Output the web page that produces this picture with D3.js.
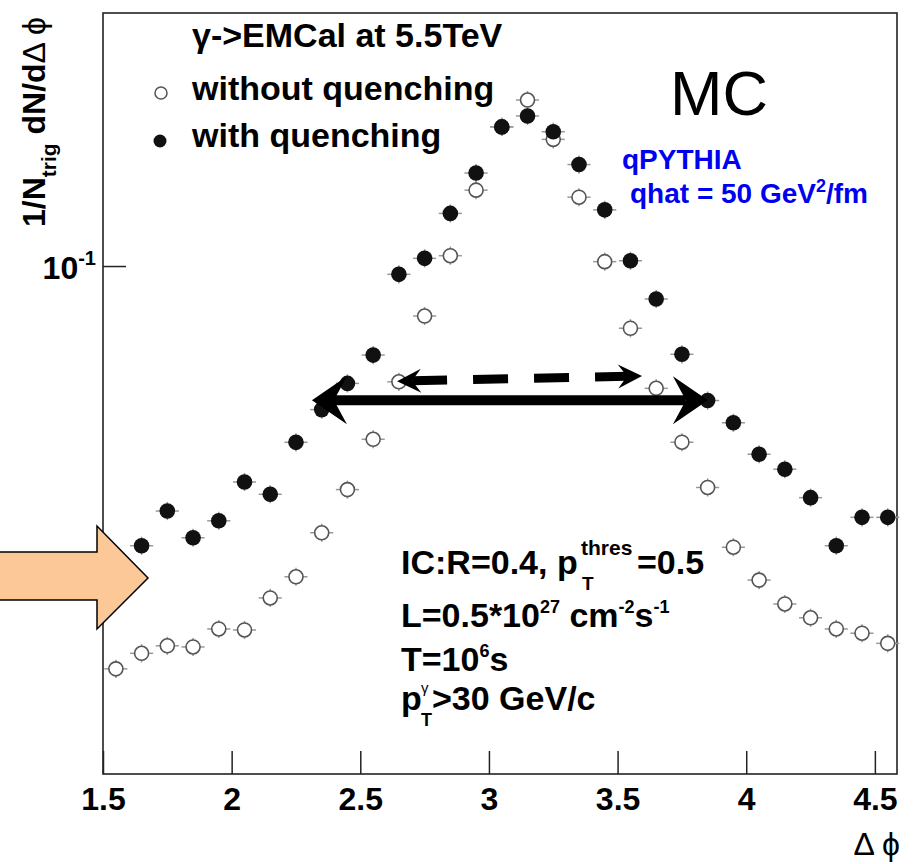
<!DOCTYPE html>
<html>
<head>
    <title>Delta phi correlation</title>
    <script src="https://cdn.jsdelivr.net/npm/d3@7"></script>
</head>
<style>
body { margin: 0; background: white; }
text { font-family: "Liberation Sans", Arial, Helvetica, sans-serif; }
</style>
<body>
<script>

// bin centres in delta phi
var dphi = [1.55, 1.65, 1.75, 1.85, 1.95, 2.05, 2.15, 2.25, 2.35, 2.45,
            2.55, 2.65, 2.75, 2.85, 2.95, 3.05, 3.15, 3.25, 3.35, 3.45,
            3.55, 3.65, 3.75, 3.85, 3.95, 4.05, 4.15, 4.25, 4.35, 4.45, 4.55];

// open circles
var withoutQuench = [0.00497, 0.00558, 0.00590, 0.00585, 0.00669, 0.00664, 0.00843, 0.00987, 0.0137, 0.0189,
                     0.0275, 0.0422, 0.0689, 0.108, 0.176, 0.282, 0.3445, 0.257, 0.167, 0.1033,
                     0.0629, 0.0402, 0.0269, 0.0192, 0.0123, 0.00963, 0.00806, 0.00727, 0.00669, 0.00648, 0.00601];

// filled circles
var withQuench = [0.00978, 0.01244, 0.01611, 0.0132, 0.01498, 0.0200, 0.01825, 0.02688, 0.0343, 0.0417,
                  0.0515, 0.094, 0.1059, 0.148, 0.200, 0.282, 0.306, 0.272, 0.213, 0.152,
                  0.104, 0.0782, 0.0518, 0.0367, 0.0311, 0.0246, 0.0220, 0.0178, 0.01244, 0.01537, 0.01537];

var xTicks = [1.5, 2, 2.5, 3, 3.5, 4, 4.5];
var yTicks = [0.01, 0.1];
var yTickExp = ["-2", "-1"];

var binHalf = 0.045;
var relErr = 0.07;

// width arrows (delta phi ends, y level)
var solidArrowX = [2.312, 3.851];
var solidArrowY = [0.0368, 0.0368];
var dashArrowX = [2.643, 3.595];
var dashArrowY = [0.0424, 0.0441];

var w = 913, h = 864;
var padL = 103, padR = 897, padT = 13, padB = 774;

var svg = d3.select("body").append("svg")
    .attr("width", w)
    .attr("height", h);

svg.append("rect").attr("width", w).attr("height", h).attr("fill", "white");

var x = d3.scaleLinear().domain([1.5, 4.586]).range([padL, padR]);
var y = d3.scaleLog().domain([0.00227, 0.659]).range([padB, padT]);

// ticks (ROOT style, pointing inwards)
var xMinor = d3.range(15, 46).map(function(d) { return d / 10; })
    .filter(function(d) { return xTicks.indexOf(d) < 0; });
var yMinor = y.ticks().filter(function(d) {
    return Math.abs(Math.log10(d) - Math.round(Math.log10(d))) > 1e-6;
});

var gx = svg.append("g").attr("transform", "translate(0," + padB + ")");
gx.call(d3.axisBottom(x).tickValues(xMinor).tickSizeInner(-12).tickSizeOuter(0).tickFormat(""));
gx.call(d3.axisBottom(x).tickValues(xTicks).tickSizeInner(-23).tickSizeOuter(0).tickPadding(13)
    .tickFormat(d3.format("")));
gx.selectAll("text")
    .attr("fill", "black")
    .style("font-size", "32px")
    .style("font-weight", "bold")
    .style("font-family", "'Liberation Sans', Arial, sans-serif");

var gy = svg.append("g").attr("transform", "translate(" + padL + ",0)");
gy.call(d3.axisLeft(y).tickValues(yMinor).tickSizeInner(-12).tickSizeOuter(0).tickFormat(""));
gy.call(d3.axisLeft(y).tickValues(yTicks).tickSizeInner(-23).tickSizeOuter(0).tickFormat(""));
svg.selectAll(".domain").remove();
svg.selectAll(".tick line").attr("stroke", "#222").attr("stroke-width", 1.5);

yTicks.forEach(function(v, i) {
    var t = svg.append("text")
        .attr("x", 96)
        .attr("y", y(v) + 13)
        .attr("text-anchor", "end")
        .style("font-size", "32px")
        .style("font-weight", "bold");
    t.append("tspan").text("10");
    t.append("tspan").attr("dy", -14).style("font-size", "20px").text(yTickExp[i]);
});

// frame
svg.append("rect")
    .attr("x", padL).attr("y", padT)
    .attr("width", padR - padL).attr("height", padB - padT)
    .attr("fill", "none")
    .attr("stroke", "#222")
    .attr("stroke-width", 1.6);

// error bars
function errorBars(vals) {
    var g = svg.append("g").attr("stroke", "#999").attr("stroke-width", 1.5);
    g.selectAll("line.ex")
        .data(vals)
        .enter()
        .append("line")
        .attr("class", "ex")
        .attr("x1", function(d, i) { return x(dphi[i] - binHalf); })
        .attr("x2", function(d, i) { return x(dphi[i] + binHalf); })
        .attr("y1", function(d) { return y(d); })
        .attr("y2", function(d) { return y(d); });
    g.selectAll("line.ey")
        .data(vals)
        .enter()
        .append("line")
        .attr("class", "ey")
        .attr("x1", function(d, i) { return x(dphi[i]); })
        .attr("x2", function(d, i) { return x(dphi[i]); })
        .attr("y1", function(d) { return y(d * (1 + relErr)); })
        .attr("y2", function(d) { return y(d / (1 + relErr)); });
}
errorBars(withoutQuench);
errorBars(withQuench);

svg.append("g").selectAll("circle")
    .data(withoutQuench)
    .enter()
    .append("circle")
    .attr("cx", function(d, i) { return x(dphi[i]); })
    .attr("cy", function(d) { return y(d); })
    .attr("r", 7)
    .attr("fill", "white")
    .attr("stroke", "#555")
    .attr("stroke-width", 1.6);

svg.append("g").selectAll("circle")
    .data(withQuench)
    .enter()
    .append("circle")
    .attr("cx", function(d, i) { return x(dphi[i]); })
    .attr("cy", function(d) { return y(d); })
    .attr("r", 7.8)
    .attr("fill", "#111");

// double arrows
function headPath(len, half, notch) {
    return "M0,0L" + len + "," + (-half) + "L" + notch + ",0L" + len + "," + half + "Z";
}
function doubleArrow(xs, ys, width, dash, len, half, notch) {
    var x1 = x(xs[0]), y1 = y(ys[0]), x2 = x(xs[1]), y2 = y(ys[1]);
    var ang = Math.atan2(y2 - y1, x2 - x1);
    var c = Math.cos(ang), s = Math.sin(ang);
    svg.append("line")
        .attr("x1", x1 + notch * c).attr("y1", y1 + notch * s)
        .attr("x2", x2 - notch * c).attr("y2", y2 - notch * s)
        .attr("stroke", "black")
        .attr("stroke-width", width)
        .attr("stroke-dasharray", dash);
    svg.append("path")
        .attr("d", headPath(len, half, notch))
        .attr("transform", "translate(" + x1 + "," + y1 + ") rotate(" + (ang * 180 / Math.PI) + ")")
        .attr("fill", "black");
    svg.append("path")
        .attr("d", headPath(len, half, notch))
        .attr("transform", "translate(" + x2 + "," + y2 + ") rotate(" + (ang * 180 / Math.PI + 180) + ")")
        .attr("fill", "black");
}
doubleArrow(solidArrowX, solidArrowY, 10, null, 35, 24, 22);
doubleArrow(dashArrowX, dashArrowY, 9, "35,26", 24, 12, 15);

// legend
svg.append("circle").attr("cx", 161).attr("cy", 93).attr("r", 6)
    .attr("fill", "white").attr("stroke", "#555").attr("stroke-width", 1.5);
svg.append("circle").attr("cx", 160).attr("cy", 141).attr("r", 6.5).attr("fill", "#111");

var legendLines = ["\u03b3->EMCal at 5.5TeV", "without quenching", "with quenching"];
var legendBase = [47, 100, 147];
legendLines.forEach(function(t, i) {
    svg.append("text")
        .attr("x", 192)
        .attr("y", legendBase[i])
        .style("font-size", "34px")
        .style("font-weight", "bold")
        .text(t);
});

svg.append("text")
    .attr("x", 670).attr("y", 115)
    .style("font-size", "63px")
    .text("MC");

svg.append("text")
    .attr("x", 622).attr("y", 169)
    .attr("fill", "#0000f0")
    .style("font-size", "28px").style("font-weight", "bold")
    .text("qPYTHIA");
var qh = svg.append("text")
    .attr("x", 630).attr("y", 203)
    .attr("fill", "#0000f0")
    .style("font-size", "28px").style("font-weight", "bold");
qh.append("tspan").text("qhat = 50 GeV");
qh.append("tspan").attr("dy", -11).style("font-size", "18px").text("2");
qh.append("tspan").attr("dy", 11).text("/fm");

// cuts text block
var info = svg.append("g").style("font-weight", "bold");
var l1 = info.append("text").attr("x", 401).attr("y", 574).style("font-size", "34px");
l1.append("tspan").text("IC:R=0.4, p");
l1.append("tspan").attr("x", 581).attr("y", 555).style("font-size", "21px").text("thres");
l1.append("tspan").attr("x", 582).attr("y", 590).style("font-size", "19px").text("T");
l1.append("tspan").attr("x", 637).attr("y", 574).text("=0.5");

var l2 = info.append("text").attr("x", 401).attr("y", 627).style("font-size", "34px");
l2.append("tspan").text("L=0.5*10");
l2.append("tspan").attr("dy", -14).style("font-size", "18px").text("27");
l2.append("tspan").attr("dy", 14).text(" cm");
l2.append("tspan").attr("dy", -14).style("font-size", "18px").text("-2");
l2.append("tspan").attr("dy", 14).text("s");
l2.append("tspan").attr("dy", -14).style("font-size", "18px").text("-1");

var l3 = info.append("text").attr("x", 401).attr("y", 671).style("font-size", "34px");
l3.append("tspan").text("T=10");
l3.append("tspan").attr("dy", -14).style("font-size", "18px").text("6");
l3.append("tspan").attr("dy", 14).text("s");

var l4 = info.append("text").attr("x", 401).attr("y", 710).style("font-size", "34px");
l4.append("tspan").text("p");
l4.append("tspan").attr("x", 421).attr("y", 693).style("font-size", "15px").style("font-weight", "normal").text("\u03b3");
l4.append("tspan").attr("x", 421).attr("y", 726).style("font-size", "18px").text("T");
l4.append("tspan").attr("x", 432).attr("y", 710).text(">30 GeV/c");

// axis titles
svg.append("text")
    .attr("x", 900).attr("y", 855)
    .attr("text-anchor", "end")
    .style("font-size", "32px")
    .text("\u0394 \u03d5");

var yl = svg.append("text")
    .attr("transform", "translate(45,17) rotate(-90)")
    .attr("text-anchor", "end")
    .style("font-size", "32px")
    .style("font-weight", "bold");
yl.append("tspan").text("1/N");
yl.append("tspan").attr("dy", 11).style("font-size", "21px").text("trig");
yl.append("tspan").attr("dy", -11).text(" dN/d");
yl.append("tspan").style("font-weight", "normal").text("\u0394 \u03d5");

// big orange arrow on the left
var bigArrow = [[-5, 552], [97, 552], [97, 526], [148, 578], [97, 629], [97, 600], [-5, 600]];
svg.append("path")
    .attr("d", d3.line()(bigArrow) + "Z")
    .attr("fill", "#fcc897")
    .attr("stroke", "black")
    .attr("stroke-width", 1.5);

</script>
</body>
</html>
